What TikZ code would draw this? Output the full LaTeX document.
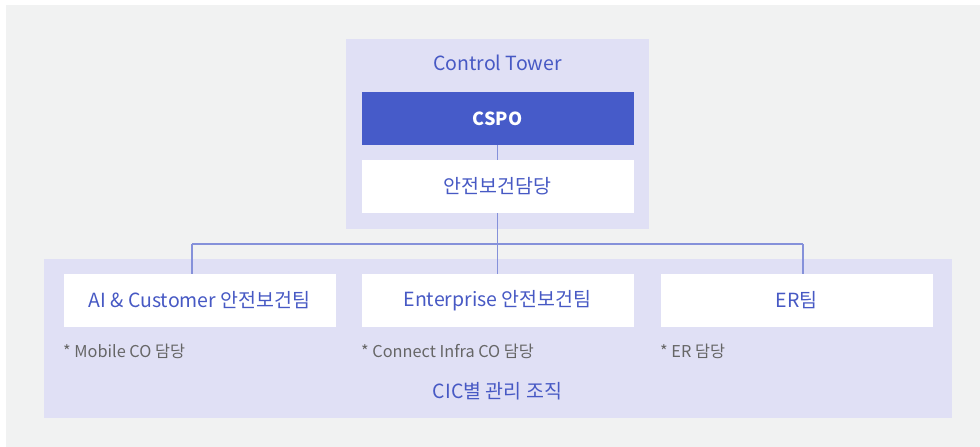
\documentclass[tikz,border=0pt]{standalone}
\usepackage{fontspec}
\setmainfont{Noto Sans CJK KR}
\definecolor{bggray}{HTML}{F1F2F2}
\definecolor{lav}{HTML}{E0E0F5}
\definecolor{dblue}{HTML}{465BC9}
\definecolor{tblue}{HTML}{4759C4}
\definecolor{lineblue}{HTML}{8591DA}
\definecolor{ngray}{HTML}{666666}
\tikzset{
  panel/.style={fill=lav, draw=none},
  wbox/.style={fill=white, draw=none, minimum height=53pt, minimum width=272pt, inner sep=0pt, text=tblue, font=\fontsize{19.5}{21}\selectfont},
  dbox/.style={fill=dblue, draw=none, minimum height=53pt, minimum width=272pt, inner sep=0pt, text=white, font=\bfseries\fontsize{18}{20}\selectfont},
  title/.style={text=tblue, font=\fontsize{19.5}{21}\selectfont, inner sep=0pt},
  note/.style={text=ngray, font=\fontsize{16.3}{18}\selectfont, inner sep=0pt, anchor=west},
  conn/.style={draw=lineblue, line width=1.2pt}
}
\begin{document}
\begin{tikzpicture}[x=1pt,y=-1pt]
\useasboundingbox (0,0) rectangle (980,447);
\fill[white] (0,0) rectangle (980,447);
\fill[bggray] (6,5) rectangle (980,447);
% panels
\fill[panel] (346,39) rectangle (649,229);
\fill[panel] (44,259) rectangle (951.5,417.5);
% junction coordinates
\coordinate (j) at (497.5,244);
\coordinate (jl) at (192,244);
\coordinate (jr) at (803,244);
% nodes
\node[title] (ct) at (497.5,63) {Control Tower};
\node[dbox] (cspo) at (497.5,118.5) {CSPO};
\node[wbox] (safe) at (497.5,186.3) {안전보건담당};
\draw[conn] (cspo.south) -- (safe.north);
\node[wbox] (t1) at (199.5,300.3) {AI \& Customer 안전보건팀};
\node[wbox] (t2) at (497.5,300.3) {Enterprise 안전보건팀};
\node[wbox] (t3) at (796.5,300.3) {ER팀};
\draw[conn] (safe.south) -- (j);
\draw[conn] (jl) -- (jr);
\draw[conn] (jl) -- (jl |- t1.north);
\draw[conn] (j) -- (t2.north);
\draw[conn] (jr) -- (jr |- t3.north);
\node[note] (n1) at (63,351) {* Mobile CO 담당};
\node[note] (n2) at (361,351) {* Connect Infra CO 담당};
\node[note] (n3) at (660,351) {* ER 담당};
\node[title] (cic) at (497.5,391) {CIC별 관리 조직};
\end{tikzpicture}
\end{document}
